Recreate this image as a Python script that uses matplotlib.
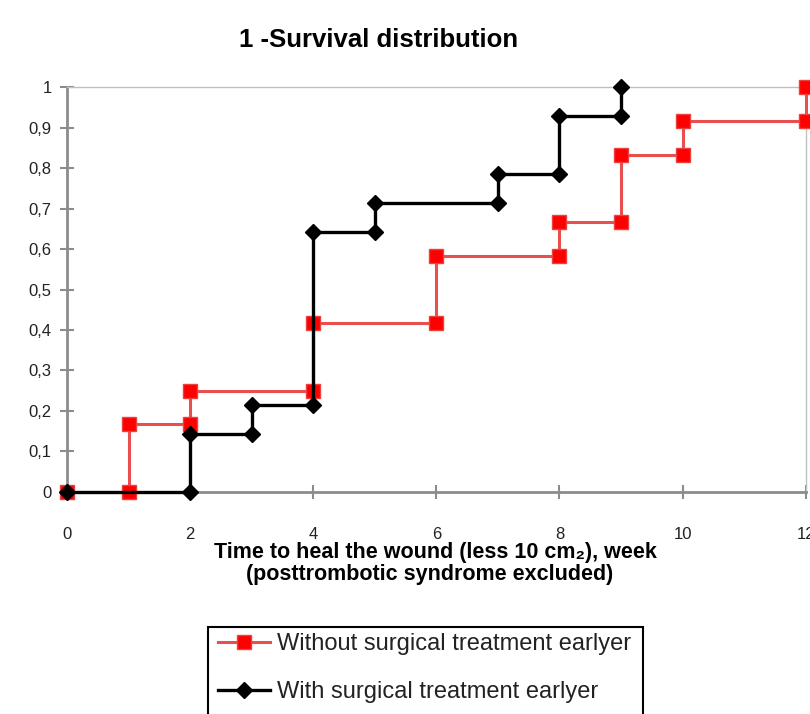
import matplotlib
matplotlib.use("Agg")
import matplotlib.pyplot as plt
from matplotlib.patches import Rectangle
from matplotlib.ticker import FuncFormatter

plt.rcParams['font.family'] = ['Liberation Sans', 'DejaVu Sans']

# data
weeks_without = [0, 1, 1, 2, 2, 4, 4, 6, 6, 8, 8, 9, 9, 10, 10, 12, 12]
surv_without = [0, 0, 0.167, 0.167, 0.25, 0.25, 0.417, 0.417, 0.583, 0.583,
                0.667, 0.667, 0.833, 0.833, 0.917, 0.917, 1.0]
weeks_with = [0, 2, 2, 3, 3, 4, 4, 5, 5, 7, 7, 8, 8, 9, 9]
surv_with = [0, 0, 0.143, 0.143, 0.214, 0.214, 0.643, 0.643, 0.714, 0.714,
             0.786, 0.786, 0.929, 0.929, 1.0]
x_ticks = [0, 2, 4, 6, 8, 10, 12]
y_ticks = [0, 0.1, 0.2, 0.3, 0.4, 0.5, 0.6, 0.7, 0.8, 0.9, 1]

grey = '#8c8c8c'

fig = plt.figure(figsize=(8.1, 7.14), dpi=100)
ax = fig.add_axes([0.0827, 0.311, 0.912, 0.567])

ax.plot(weeks_without, surv_without, color='#e8504f', linewidth=2.2,
        marker='s', markersize=10, markerfacecolor='#ff0000',
        markeredgecolor='#ef4040', label='Without surgical treatment earlyer',
        zorder=3, clip_on=False)
ax.plot(weeks_with, surv_with, color='black', linewidth=2.4,
        marker='D', markersize=8, markerfacecolor='black',
        markeredgecolor='black', label='With surgical treatment earlyer',
        zorder=4, clip_on=False)

ax.set_xlim(0, 12)
ax.set_ylim(0, 1)
ax.set_xticks(x_ticks)
ax.set_yticks(y_ticks)
ax.yaxis.set_major_formatter(FuncFormatter(
    lambda v, p: '0' if v == 0 else ('1' if v == 1 else ('%.1f' % v).replace('.', ','))))

for s in ax.spines.values():
    s.set_color(grey)
    s.set_linewidth(1.0)
ax.spines['left'].set_linewidth(2.0)
ax.spines['bottom'].set_linewidth(2.0)
ax.spines['top'].set_color('#c0c0c0')
ax.spines['right'].set_color('#c0c0c0')

ax.tick_params(axis='both', direction='inout', length=10, width=1.5, color=grey,
               labelsize=12, labelcolor='#222222')
ax.tick_params(axis='x', pad=20)
ax.tick_params(axis='y', pad=6)
for lab in ax.get_xticklabels() + ax.get_yticklabels():
    lab.set_clip_on(False)

fig.text(0.467, 0.944, '1 -Survival distribution', ha='center', va='center',
         fontsize=18.5, fontweight='bold')
fig.text(0.537, 0.226, 'Time to heal the wound (less 10 cm\u2082), week',
         ha='center', va='center', fontsize=15.5, fontweight='bold',
         family=['Liberation Sans', 'DejaVu Sans'])
fig.text(0.53, 0.195, '(posttrombotic syndrome excluded)',
         ha='center', va='center', fontsize=15.5, fontweight='bold')

fig.patches.append(Rectangle((0.257, -0.05), 0.537, 0.172, transform=fig.transFigure,
                             fill=False, edgecolor='black', linewidth=1.5))
leg = fig.legend(loc='upper left', bbox_to_anchor=(0.257, 0.126), frameon=False,
                 fontsize=17, handlelength=2.2, handletextpad=0.3, labelspacing=1.1,
                 borderaxespad=0.0)
for t in leg.get_texts():
    t.set_color('#222222')

fig.savefig('out.png', dpi=100)
